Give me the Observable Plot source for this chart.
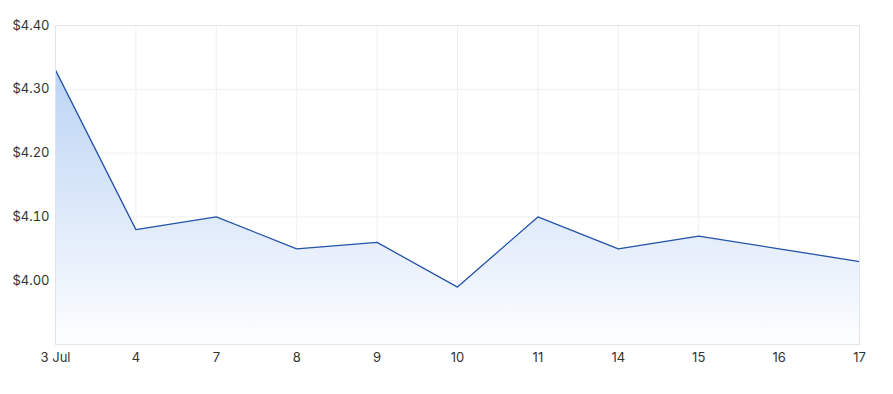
<!DOCTYPE html>
<html>
<head>
<meta charset="utf-8">
<script src="https://cdn.jsdelivr.net/npm/d3@7"></script>
<script src="https://cdn.jsdelivr.net/npm/@observablehq/plot@0.6"></script>
<style>
  html, body { margin: 0; padding: 0; background: #fff; }
  #chart svg { display: block; }
</style>
</head>
<body>
<div id="chart"></div>
<script>
const dates = ["3 Jul", "4", "7", "8", "9", "10", "11", "14", "15", "16", "17"];
const prices = [4.33, 4.08, 4.10, 4.05, 4.06, 3.99, 4.10, 4.05, 4.07, 4.05, 4.03];
const yTicks = [4.00, 4.10, 4.20, 4.30, 4.40];

const data = dates.map((d, i) => ({date: d, price: prices[i]}));
const baseline = 3.9;

const plot = Plot.plot({
  width: 893,
  height: 394,
  marginLeft: 55,
  marginRight: 34,
  marginTop: 25,
  marginBottom: 50,
  style: {fontFamily: "Inter, sans-serif", fontSize: "13px", color: "#333"},
  x: {type: "point", domain: dates, padding: 0, round: false, label: null},
  y: {domain: [3.9, 4.4], label: null},
  marks: [
    Plot.gridX(dates, {stroke: "#eef0f3", strokeOpacity: 1}),
    Plot.gridY(yTicks, {stroke: "#eef0f3", strokeOpacity: 1}),
    Plot.areaY(data, {x: "date", y1: baseline, y2: "price", fill: "url(#areaGrad)", curve: "linear"}),
    Plot.lineY(data, {x: "date", y: "price", stroke: "#2553a8", strokeWidth: 1.3, curve: "linear"}),
    Plot.frame({stroke: "#e4e5e8"}),
    Plot.axisY(yTicks, {tickSize: 0, tickPadding: 6, tickFormat: d => "$" + d.toFixed(2), fill: "#333", fontSize: 13}),
    Plot.axisX(dates, {tickSize: 0, tickPadding: 8, fill: "#333", fontSize: 13})
  ]
});

const ns = "http://www.w3.org/2000/svg";
const defs = document.createElementNS(ns, "defs");
const grad = document.createElementNS(ns, "linearGradient");
grad.setAttribute("id", "areaGrad");
grad.setAttribute("x1", "0"); grad.setAttribute("y1", "0");
grad.setAttribute("x2", "0"); grad.setAttribute("y2", "1");
[["0", "#bcd4f5"], ["0.5", "#dce8f9"], ["1", "#fdfeff"]].forEach(([o, c]) => {
  const s = document.createElementNS(ns, "stop");
  s.setAttribute("offset", o);
  s.setAttribute("stop-color", c);
  grad.appendChild(s);
});
defs.appendChild(grad);
plot.insertBefore(defs, plot.firstChild);

document.getElementById("chart").appendChild(plot);
</script>
</body>
</html>
